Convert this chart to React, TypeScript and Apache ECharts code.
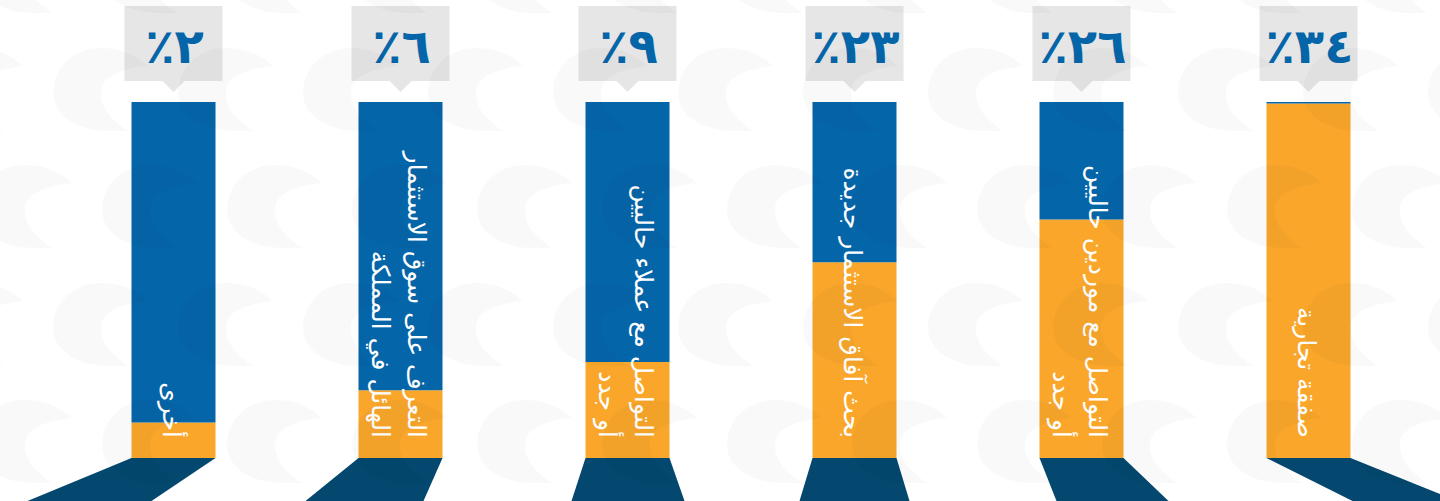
import React, { useEffect, useRef } from "react";
import * as echarts from "echarts";

// ---- data ----
const categories = [
  "أخرى",
  "التعرف على سوق الاستثمار\nالهائل في المملكة",
  "التواصل مع عملاء حاليين\nأو جدد",
  "بحث آفاق الاستثمار جديدة",
  "التواصل مع موردين حاليين\nأو جدد",
  "صفقة تجارية",
];
const percentages = [2, 6, 9, 23, 26, 34];
const orangeFill = [10, 19, 27, 55, 67, 99.6];
const blueFill = [90, 81, 73, 45, 33, 0.4];

// ---- styles ----
const ARABIC_DIGITS = "٠١٢٣٤٥٦٧٨٩";
const toArabicPercent = (p: number) =>
  "٪" + String(p).replace(/\d/g, (d) => ARABIC_DIGITS[Number(d)]);

const BLUE = "#0565a9";
const ORANGE = "#f9a62b";
const SHADOW = "#04486f";
const BOX = "#e6e6e6";
const BAR_W = 84;
const SHADOW_SPREAD_LEFT = [-104, -53, -14, -13, 17, 86];
const SHADOW_SPREAD_RIGHT = [-64, -19, 15, 13, 45, 107];

const CRESCENT_D =
  "M95,18 C80,4 64,0 48,0 C18,0 0,22 0,45 C0,68 25,83 56,83 L75,83 C60,72 48,62 48,45 C48,32 60,22 95,18 Z";
let registered = false;
function ensureShape() {
  if (!registered) {
    echarts.graphic.registerShape(
      "crescent",
      echarts.graphic.extendPath(CRESCENT_D, {}) as any
    );
    registered = true;
  }
}

export default function App() {
  const ref = useRef<HTMLDivElement>(null);
  useEffect(() => {
    ensureShape();
    const chart = echarts.init(ref.current!, null, { renderer: "svg" });

    const pattern: any[] = [];
    const rowsY = [-70, 48, 165, 283, 400];
    rowsY.forEach((y, r) => {
      const start = r % 2 === 0 ? -23 : 53;
      for (let x = start - 125; x < 1440; x += 125) {
        pattern.push({
          type: "crescent",
          x,
          y,
          z: 100,
          silent: true,
          style: { fill: "rgba(0,0,0,0.022)" },
        });
      }
    });

    const idx = categories.map((_, i) => [i, percentages[i]]);

    chart.setOption({
      animation: false,
      backgroundColor: "#ffffff",
      grid: { left: 60, right: 18, top: 102, bottom: 43 },
      xAxis: { type: "category", data: categories, show: false },
      yAxis: { type: "value", min: 0, max: 100, show: false },
      graphic: { elements: pattern },
      series: [
        {
          type: "custom",
          name: "shadow",
          silent: true,
          clip: false,
          z: 1,
          data: idx,
          renderItem: (params: any, api: any) => {
            const i = api.value(0);
            const base = api.coord([i, 0]);
            const H = api.getHeight() - base[1];
            const cx = base[0];
            const y = base[1];
            return {
              type: "polygon",
              shape: {
                points: [
                  [cx - BAR_W / 2, y],
                  [cx + BAR_W / 2, y],
                  [cx + BAR_W / 2 + SHADOW_SPREAD_RIGHT[i], y + H],
                  [cx - BAR_W / 2 + SHADOW_SPREAD_LEFT[i], y + H],
                ],
              },
              style: { fill: SHADOW },
            };
          },
        },
        {
          type: "bar",
          name: "orange",
          stack: "total",
          barWidth: BAR_W,
          silent: true,
          itemStyle: { color: ORANGE },
          data: orangeFill,
        },
        {
          type: "bar",
          name: "blue",
          stack: "total",
          barWidth: BAR_W,
          silent: true,
          itemStyle: { color: BLUE },
          data: blueFill,
        },
        {
          type: "custom",
          name: "labels",
          silent: true,
          clip: false,
          z: 5,
          data: idx,
          renderItem: (params: any, api: any) => {
            const i = api.value(0);
            const top = api.coord([i, 100]);
            const cx = top[0];
            const by = top[1] - 21;
            return {
              type: "group",
              children: [
                {
                  type: "rect",
                  shape: { x: cx - 49, y: by - 75, width: 98, height: 75 },
                  style: { fill: BOX },
                },
                {
                  type: "polygon",
                  shape: {
                    points: [
                      [cx - 11, by],
                      [cx + 11, by],
                      [cx, by + 11],
                    ],
                  },
                  style: { fill: BOX },
                },
                {
                  type: "text",
                  x: cx + 1,
                  y: by - 35,
                  style: {
                    text: toArabicPercent(api.value(1)),
                    fill: BLUE,
                    font: 'bold 48px "DejaVu Sans"',
                    align: "center",
                    verticalAlign: "middle",
                  },
                },
              ],
            };
          },
        },
        {
          type: "custom",
          name: "texts",
          silent: true,
          clip: false,
          z: 6,
          data: idx,
          renderItem: (params: any, api: any) => {
            const i = api.value(0);
            const base = api.coord([i, 0]);
            return {
              type: "text",
              x: base[0] - 2,
              y: base[1] - 20,
              rotation: -Math.PI / 2,
              style: {
                text: categories[i],
                fill: "#ffffff",
                font: '25px "DejaVu Sans"',
                align: "right",
                verticalAlign: "middle",
                lineHeight: 36,
              },
            };
          },
        },
      ],
    });
    return () => chart.dispose();
  }, []);
  return (
    <div
      ref={ref}
      style={{
        position: "fixed",
        left: 0,
        top: 0,
        width: 1440,
        height: 501,
        background: "#fff",
      }}
    />
  );
}
